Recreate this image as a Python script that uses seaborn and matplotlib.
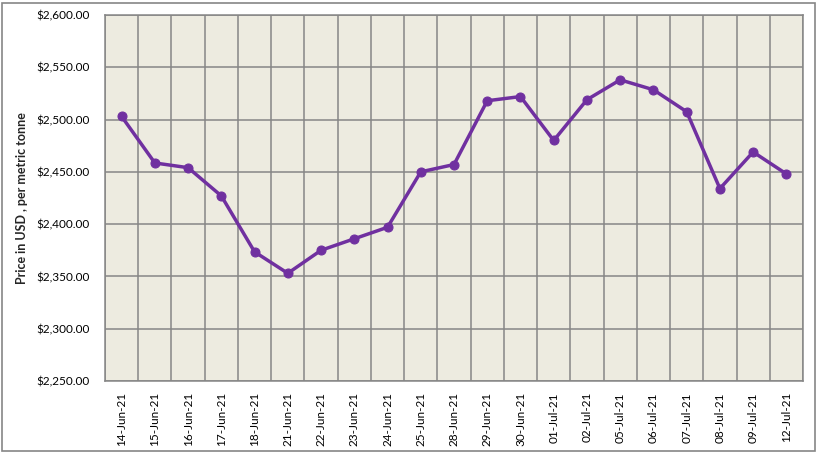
import matplotlib
matplotlib.use("Agg")
import matplotlib.pyplot as plt
import seaborn as sns
import pandas as pd
import numpy as np
from matplotlib.patches import Rectangle
from matplotlib.ticker import FuncFormatter, MultipleLocator

dates = ["14-Jun-21", "15-Jun-21", "16-Jun-21", "17-Jun-21", "18-Jun-21", "21-Jun-21",
         "22-Jun-21", "23-Jun-21", "24-Jun-21", "25-Jun-21", "28-Jun-21", "29-Jun-21",
         "30-Jun-21", "01-Jul-21", "02-Jul-21", "05-Jul-21", "06-Jul-21", "07-Jul-21",
         "08-Jul-21", "09-Jul-21", "12-Jul-21"]
prices = [2503, 2458.5, 2454, 2427, 2373.5, 2353, 2375, 2386, 2397, 2450, 2457, 2518,
          2522, 2480, 2519, 2538, 2528.5, 2507.5, 2434, 2469, 2448]

sns.set_style("white")
plt.rcParams['font.family'] = ['Lato', 'DejaVu Sans']

df = pd.DataFrame({"date": dates, "price": prices, "pos": np.arange(len(dates))})

fig = plt.figure(figsize=(8.18, 4.53), dpi=100)
ax = fig.add_axes([105/818, 72/453, 698/818, 366/453])
ax.set_facecolor("#EDEBE0")

sns.lineplot(data=df, x="pos", y="price", ax=ax, color="#7030A0", linewidth=2.5,
             marker="o", markersize=6.5, markeredgecolor="#7030A0", zorder=3)

ax.set_xlim(-0.5, len(dates) - 0.5)
ax.set_ylim(2250, 2600)
ax.yaxis.set_major_locator(MultipleLocator(50))
ax.yaxis.set_major_formatter(FuncFormatter(lambda v, p: f"${v:,.2f}"))
ax.set_xticks(np.arange(len(dates)))
ax.set_xticklabels(dates, rotation=90)
ax.set_xticks(np.arange(len(dates) + 1) - 0.5, minor=True)
ax.grid(False)
ax.grid(True, which="minor", axis="x", color="#868686", linewidth=1.1)
ax.grid(True, which="major", axis="y", color="#868686", linewidth=1.1)
ax.set_axisbelow(True)
ax.tick_params(axis="both", which="both", length=0, labelsize=8.5, colors="black")
ax.tick_params(axis="x", pad=8)
ax.tick_params(axis="y", pad=11)
for s in ax.spines.values():
    s.set_color("#868686")
    s.set_linewidth(1.1)
ax.set_xlabel("")
ax.set_ylabel("Price in USD , per metric tonne", fontsize=9, fontweight="bold", labelpad=6)

fig.patches.append(Rectangle((2/818, 2/453), 813/818, 448/453, transform=fig.transFigure,
                             fill=False, edgecolor="#868686", linewidth=1.2))

fig.savefig("out.png", dpi=100)
